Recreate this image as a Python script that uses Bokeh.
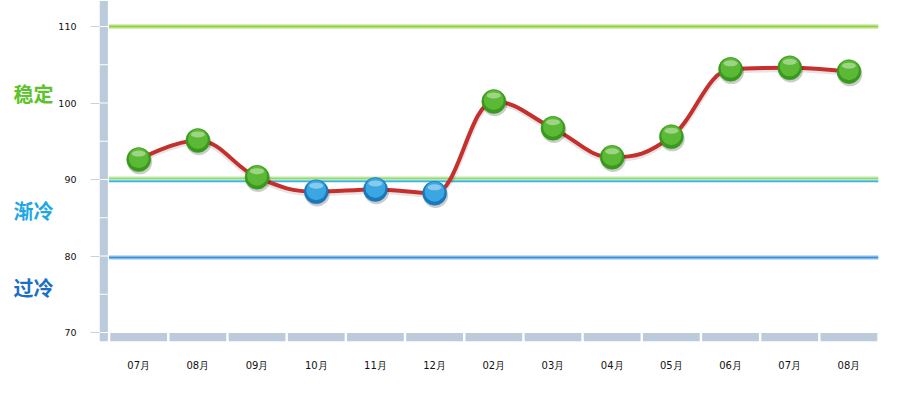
import numpy as np
from bokeh.plotting import figure
from bokeh.layouts import row
from bokeh.models import Range1d, FixedTicker, ColumnDataSource
from bokeh.core.properties import value
from bokeh.embed import file_html
from bokeh.resources import INLINE

# ---------------- data ----------------
months = ["07月", "08月", "09月", "10月", "11月", "12月", "02月",
          "03月", "04月", "05月", "06月", "07月", "08月"]
values = [92.6, 95.1, 90.3, 88.4, 88.7, 88.2, 100.2,
          96.7, 92.9, 95.6, 104.4, 104.6, 104.1]
y_ticks = [70, 80, 90, 100, 110]
y_minor_step = 5
stable_top = 110
stable_bottom = 90
cold_line = 80
zone_labels = ["稳定", "渐冷", "过冷"]
zone_label_y = [101.2, 86.0, 75.9]
zone_colors = ["#5cc42a", "#1fa6e6", "#1b6fc2"]

# ---------------- geometry ----------------
W, H = 895, 391
side_w = 54                       # left strip with the zone names
frame_left, frame_right = 99, 878  # page coordinates of the main plot frame
frame_top, frame_bottom = 0, 341
px_per_unit = 7.65
y_start = 70 - 9 / px_per_unit
y_end = 110 + 26 / px_per_unit
n = len(months)
bar_w_units = 9.6 / 59.2
x_start = -0.5 - bar_w_units
x_end = n - 0.5
px_per_x = (frame_right - frame_left) / (x_end - x_start)

yr = Range1d(y_start, y_end)

# ---------- left strip: zone names ----------
side = figure(width=side_w, height=H, output_backend="svg", toolbar_location=None,
              x_range=Range1d(0, side_w), y_range=yr,
              x_axis_location=None, y_axis_location=None,
              min_border_left=0, min_border_right=0, min_border_top=frame_top,
              min_border_bottom=H - frame_bottom,
              background_fill_color="white", border_fill_color="white")
side.outline_line_color = None
side.grid.visible = False
side.text(x=[13] * len(zone_labels), y=zone_label_y, text=zone_labels,
          text_color=zone_colors, text_font=value("Noto Sans CJK SC"),
          text_font_size="20px", text_font_style="bold", text_baseline="middle")

# ---------- main plot ----------
mw = W - side_w
p = figure(width=mw, height=H, output_backend="svg", toolbar_location=None,
           x_range=Range1d(x_start, x_end), y_range=yr,
           min_border_left=frame_left - side_w, min_border_right=W - frame_right,
           min_border_top=frame_top, min_border_bottom=H - frame_bottom,
           background_fill_color="white", border_fill_color="white")
p.outline_line_color = None
p.grid.visible = False

p.yaxis.ticker = FixedTicker(ticks=y_ticks)
p.yaxis.axis_line_color = None
p.yaxis.major_tick_out = 9
p.yaxis.major_tick_in = 0
p.yaxis.major_tick_line_color = "#c8d2de"
p.yaxis.minor_tick_line_color = None
p.yaxis.major_label_standoff = 14
p.yaxis.major_label_text_font = "DejaVu Sans"
p.yaxis.major_label_text_font_size = "9.5px"
p.yaxis.major_label_text_color = "#111111"

p.xaxis.ticker = FixedTicker(ticks=list(range(n)))
p.xaxis.major_label_overrides = {i: m for i, m in enumerate(months)}
p.xaxis.axis_line_color = None
p.xaxis.major_tick_line_color = None
p.xaxis.minor_tick_line_color = None
p.xaxis.major_label_standoff = 12
p.xaxis.major_label_text_font = "DejaVu Sans"
p.xaxis.major_label_text_font_size = "10px"
p.xaxis.major_label_text_color = "#111111"

bar_color = "#bccbdc"
gap_y = 1.2 / px_per_unit
gap_x = 1.2 / px_per_x

# vertical axis bar (segments every 5 units)
bounds = list(np.arange(y_ticks[0], y_ticks[-1] + 0.1, y_minor_step)) + [y_end]
p.quad(left=x_start, right=-0.5 - gap_x,
       bottom=[b + gap_y / 2 for b in bounds[:-1]],
       top=[t - gap_y / 2 for t in bounds[1:]],
       fill_color=bar_color, line_color=None)
p.quad(left=x_start, right=-0.5 - gap_x, bottom=y_start, top=y_ticks[0] - gap_y / 2,
       fill_color=bar_color, line_color=None)
# horizontal axis bar (one segment per category)
idx = np.arange(n)
p.quad(left=idx - 0.5 + gap_x, right=idx + 0.5 - gap_x, bottom=y_start,
       top=y_ticks[0] - gap_y / 2, fill_color=bar_color, line_color=None)

# zone lines
x0, x1 = -0.5, n - 0.5
p.segment(x0=x0, x1=x1, y0=stable_top, y1=stable_top, line_color="#d9f0ac", line_width=5)
p.segment(x0=x0, x1=x1, y0=stable_top, y1=stable_top, line_color="#8fd04a", line_width=2)
p.segment(x0=x0, x1=x1, y0=stable_bottom + 0.12, y1=stable_bottom + 0.12, line_color="#c4ebaa", line_width=4)
p.segment(x0=x0, x1=x1, y0=stable_bottom + 0.12, y1=stable_bottom + 0.12, line_color="#9ad873", line_width=1.5)
p.segment(x0=x0, x1=x1, y0=stable_bottom - 0.22, y1=stable_bottom - 0.22, line_color="#b8e6f4", line_width=3)
p.segment(x0=x0, x1=x1, y0=stable_bottom - 0.22, y1=stable_bottom - 0.22, line_color="#37b4dd", line_width=1.5)
p.segment(x0=x0, x1=x1, y0=cold_line - 0.2, y1=cold_line - 0.2, line_color="#c2e0f7", line_width=5)
p.segment(x0=x0, x1=x1, y0=cold_line - 0.2, y1=cold_line - 0.2, line_color="#3b8fd6", line_width=2)


# spline (Highcharts-style control points)
def spline_controls(xs, ys, smoothing=1.5):
    m = len(xs)
    left = [[xs[i], ys[i]] for i in range(m)]
    right = [[xs[i], ys[i]] for i in range(m)]
    denom = smoothing + 1
    for i in range(1, m - 1):
        px, py = xs[i], ys[i]
        lx, ly = xs[i - 1], ys[i - 1]
        nx, ny = xs[i + 1], ys[i + 1]
        lcx = (smoothing * px + lx) / denom
        lcy = (smoothing * py + ly) / denom
        rcx = (smoothing * px + nx) / denom
        rcy = (smoothing * py + ny) / denom
        if rcx != lcx:
            corr = ((rcy - lcy) * (rcx - px)) / (rcx - lcx) + py - rcy
            lcy += corr
            rcy += corr
        if lcy > ly and lcy > py:
            lcy = max(ly, py); rcy = 2 * py - lcy
        elif lcy < ly and lcy < py:
            lcy = min(ly, py); rcy = 2 * py - lcy
        if rcy > ny and rcy > py:
            rcy = max(ny, py); lcy = 2 * py - rcy
        elif rcy < ny and rcy < py:
            rcy = min(ny, py); lcy = 2 * py - rcy
        left[i] = [lcx, lcy]
        right[i] = [rcx, rcy]
    return left, right


xs = list(range(n))
lc, rc = spline_controls(xs, values)
bez = dict(x0=xs[:-1], y0=values[:-1], x1=xs[1:], y1=values[1:],
           cx0=[rc[i][0] for i in range(n - 1)], cy0=[rc[i][1] for i in range(n - 1)],
           cx1=[lc[i + 1][0] for i in range(n - 1)], cy1=[lc[i + 1][1] for i in range(n - 1)])
sh = 1.5 / px_per_unit
bez_sh = dict(bez)
for k in ("y0", "y1", "cy0", "cy1"):
    bez_sh[k] = [v - sh for v in bez[k]]
p.bezier(source=ColumnDataSource(bez_sh), x0="x0", y0="y0", x1="x1", y1="y1",
         cx0="cx0", cy0="cy0", cx1="cx1", cy1="cy1",
         line_color="black", line_alpha=0.10, line_width=6)
p.bezier(source=ColumnDataSource(bez), x0="x0", y0="y0", x1="x1", y1="y1",
         cx0="cx0", cy0="cy0", cx1="cx1", cy1="cy1",
         line_color="#c62f2c", line_width=4)

# markers
is_cold = [v < stable_bottom for v in values]
base_c = ["#1a78ba" if c else "#389a1c" for c in is_cold]
mid_c = ["#3aa6e2" if c else "#5cb935" for c in is_cold]
src = ColumnDataSource(dict(
    x=xs, y=values,
    ysh=[v - 2.2 / px_per_unit for v in values],
    xsh=[x + 1.0 / px_per_x for x in xs],
    ymid=[v + 1.5 / px_per_unit for v in values],
    yhi=[v + 6.0 / px_per_unit for v in values],
    base=base_c, mid=mid_c))
p.scatter(x="xsh", y="ysh", source=src, size=25, fill_color="black", fill_alpha=0.2, line_color=None)
p.scatter(x="x", y="y", source=src, size=24, fill_color="base", line_color="base", line_width=0.5)
p.scatter(x="x", y="ymid", source=src, size=20, fill_color="mid", line_color=None)
p.ellipse(x="x", y="yhi", source=src, width=14, height=6, width_units="screen",
          height_units="screen", fill_color="white", fill_alpha=0.4, line_color=None)

layout = row(side, p)
open("out.html", "w").write(file_html(layout, INLINE))
